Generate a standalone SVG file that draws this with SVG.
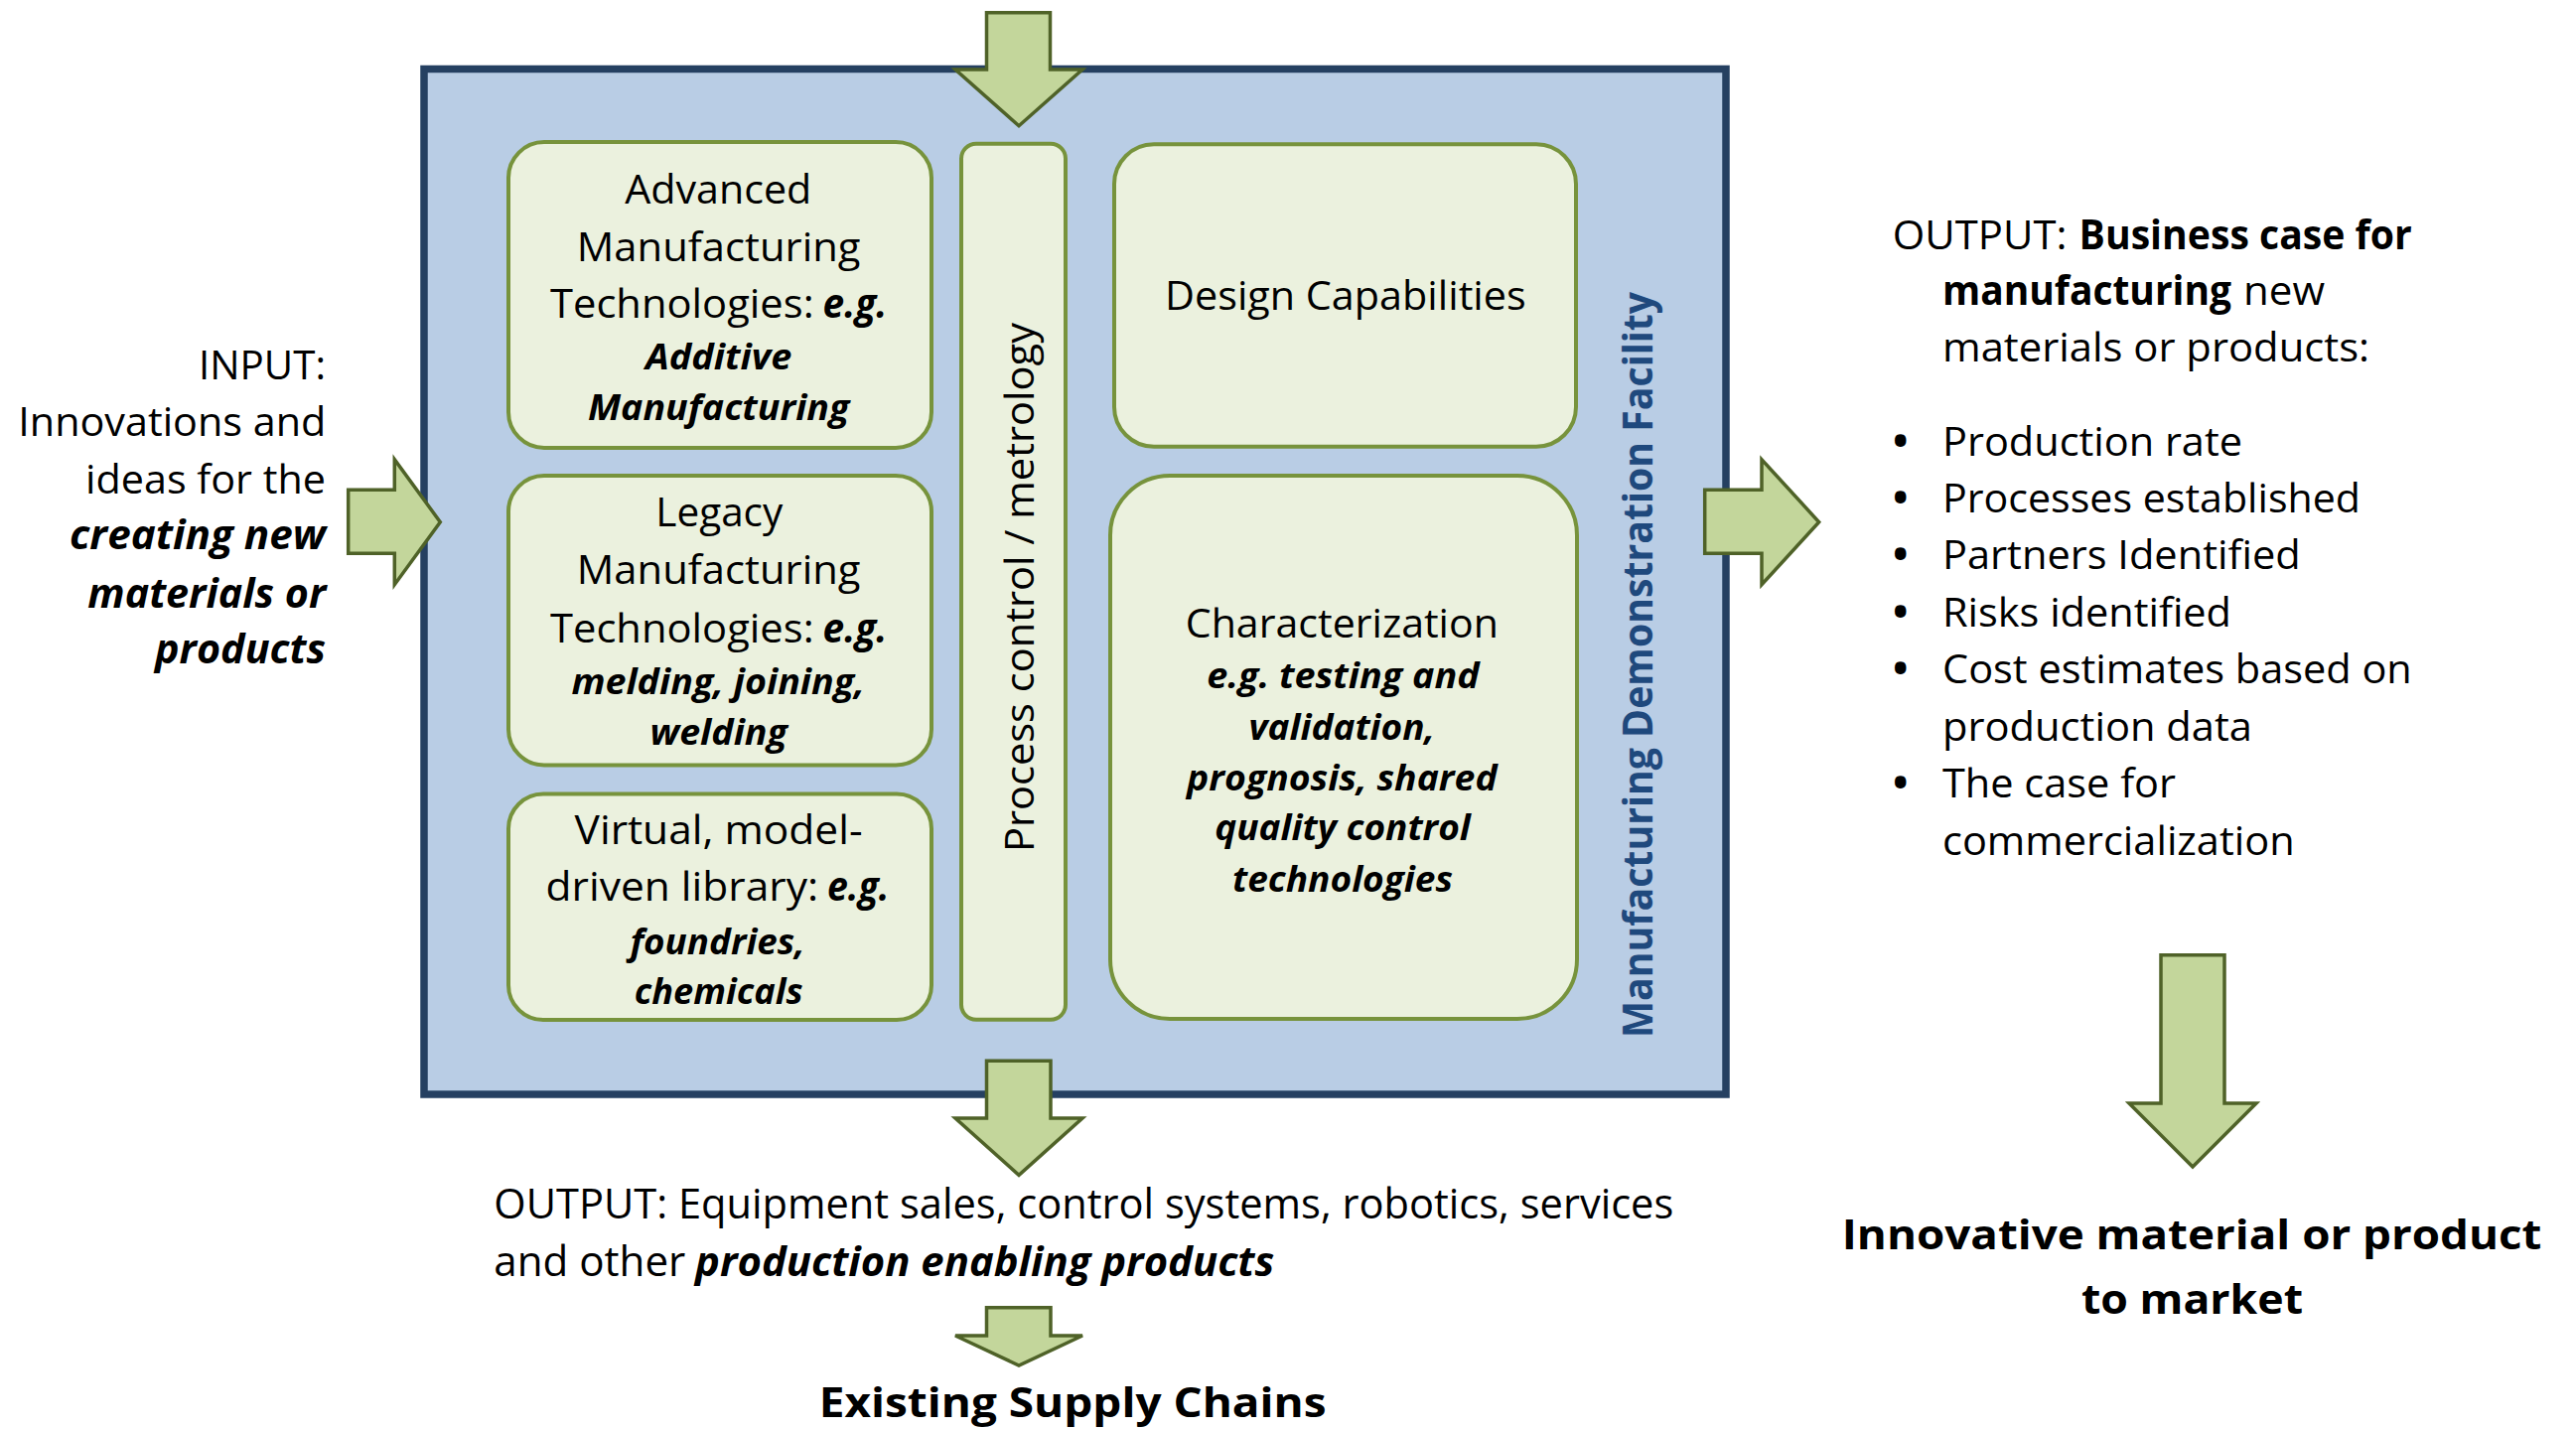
<svg xmlns="http://www.w3.org/2000/svg" width="2594" height="1439" viewBox="0 0 2594 1439">
  <style>
    .frame { fill: #B9CDE5; stroke: #254061; stroke-width: 7.5; }
    .cell { fill: #EBF1DE; stroke: #77933C; stroke-width: 4; }
    .arrow { fill: #C3D69B; stroke: #4F6228; stroke-width: 3.5; stroke-linejoin: miter; }
    text { font-family: "Open Sans", "Noto Sans", "DejaVu Sans", sans-serif; fill: #000; font-size: 41px; }
    .bi { font-weight: bold; font-style: italic; }
    .bis { font-weight: bold; font-style: italic; font-size: 36px; }
    .b { font-weight: bold; }
    .lg { font-size: 42px; }
    .label { font-weight: bold; fill: #1F497D; }
    .bullet { font-weight: bold; text-anchor: middle; }
  </style>

  <rect width="2594" height="1439" fill="#FFFFFF"/>

  <!-- Manufacturing Demonstration Facility frame -->
  <g id="mdf-frame">
    <rect class="frame" x="427" y="69.5" width="1311" height="1032.5"/>
  </g>

  <!-- capability cells inside the facility -->
  <g id="advanced-mfg">
    <rect class="cell" x="512" y="143" width="426" height="308" rx="36"/>
    <text x="629.3" y="205" textLength="188" lengthAdjust="spacingAndGlyphs">Advanced</text>
    <text x="580.8" y="262.7" textLength="285.7" lengthAdjust="spacingAndGlyphs">Manufacturing</text>
    <text x="554" y="320" textLength="265.6" lengthAdjust="spacingAndGlyphs">Technologies:</text>
    <text class="bi" x="828.6" y="320" textLength="64.7" lengthAdjust="spacingAndGlyphs">e.g.</text>
    <text class="bis" x="650" y="371.7" textLength="147.3" lengthAdjust="spacingAndGlyphs">Additive</text>
    <text class="bis" x="592" y="423.3" textLength="263.4" lengthAdjust="spacingAndGlyphs">Manufacturing</text>
  </g>

  <g id="legacy-mfg">
    <rect class="cell" x="512" y="479" width="426" height="291.5" rx="36"/>
    <text x="660.3" y="530.4" textLength="128" lengthAdjust="spacingAndGlyphs">Legacy</text>
    <text x="580.8" y="587.8" textLength="285.7" lengthAdjust="spacingAndGlyphs">Manufacturing</text>
    <text x="554" y="647.1" textLength="265.6" lengthAdjust="spacingAndGlyphs">Technologies:</text>
    <text class="bi" x="828.6" y="647.1" textLength="64.7" lengthAdjust="spacingAndGlyphs">e.g.</text>
    <text class="bis" x="575.4" y="698.8" textLength="295.5" lengthAdjust="spacingAndGlyphs">melding, joining,</text>
    <text class="bis" x="654.5" y="750.4" textLength="138.4" lengthAdjust="spacingAndGlyphs">welding</text>
  </g>

  <g id="virtual-library">
    <rect class="cell" x="512" y="799.5" width="426" height="227.5" rx="35"/>
    <text x="578.6" y="850" textLength="290" lengthAdjust="spacingAndGlyphs">Virtual, model-</text>
    <text x="549.6" y="907.3" textLength="274.5" lengthAdjust="spacingAndGlyphs">driven library:</text>
    <text class="bi" x="833" y="907.3" textLength="62.5" lengthAdjust="spacingAndGlyphs">e.g.</text>
    <text class="bis" x="634.4" y="960.9" textLength="176.3" lengthAdjust="spacingAndGlyphs">foundries,</text>
    <text class="bis" x="638.8" y="1010.6" textLength="169.7" lengthAdjust="spacingAndGlyphs">chemicals</text>
  </g>

  <g id="process-control">
    <rect class="cell" x="968" y="144.7" width="105" height="882" rx="15"/>
    <text transform="translate(1041 858) rotate(-90)" x="0" y="0" textLength="533" lengthAdjust="spacingAndGlyphs">Process control / metrology</text>
  </g>

  <g id="design-capabilities">
    <rect class="cell" x="1122" y="145.3" width="465" height="304.4" rx="40"/>
    <text x="1173" y="311.7" textLength="363.7" lengthAdjust="spacingAndGlyphs">Design Capabilities</text>
  </g>

  <g id="characterization">
    <rect class="cell" x="1118" y="479" width="470" height="547" rx="60"/>
    <text x="1193.8" y="641.5" textLength="315.1" lengthAdjust="spacingAndGlyphs">Characterization</text>
    <text class="bis" x="1215.2" y="692.5" textLength="274.5" lengthAdjust="spacingAndGlyphs">e.g. testing and</text>
    <text class="bis" x="1257.6" y="745.2" textLength="187.5" lengthAdjust="spacingAndGlyphs">validation,</text>
    <text class="bis" x="1195.1" y="796.2" textLength="312.5" lengthAdjust="spacingAndGlyphs">prognosis, shared</text>
    <text class="bis" x="1223.2" y="846" textLength="257.6" lengthAdjust="spacingAndGlyphs">quality control</text>
    <text class="bis" x="1241" y="897.8" textLength="222" lengthAdjust="spacingAndGlyphs">technologies</text>
  </g>

  <g id="mdf-label">
    <text class="label" transform="translate(1664 1045) rotate(-90)" x="0" y="0" textLength="751" lengthAdjust="spacingAndGlyphs">Manufacturing Demonstration Facility</text>
  </g>

  <!-- block arrows: input, top feed, outputs -->
  <g id="connectors">
    <polygon id="arrow-top" class="arrow" points="993.5,12.7 1057.5,12.7 1057.5,70 1090,70 1026,126.7 962,70 993.5,70"/>
    <polygon id="arrow-input" class="arrow" points="350.7,493.3 397.3,493.3 397.3,462.7 443.3,525.7 397.3,588.7 397.3,557.3 350.7,557.3"/>
    <polygon id="arrow-business" class="arrow" points="1716.7,493.3 1774,493.3 1774,462.7 1831.7,525.7 1774,588.7 1774,557.3 1716.7,557.3"/>
    <polygon id="arrow-enabling" class="arrow" points="993.5,1068.3 1058,1068.3 1058,1126 1090,1126 1026,1183.3 962,1126 993.5,1126"/>
    <polygon id="arrow-supply" class="arrow" points="993.5,1316.7 1058,1316.7 1058,1345 1090,1345 1026,1375 962,1345 993.5,1345"/>
    <polygon id="arrow-market" class="arrow" points="2176,961.7 2240,961.7 2240,1111 2272,1111 2208,1175 2144,1111 2176,1111"/>
  </g>

  <g id="input">
    <text x="200" y="381.7" textLength="128" lengthAdjust="spacingAndGlyphs">INPUT:</text>
    <text x="18.3" y="439" textLength="310" lengthAdjust="spacingAndGlyphs">Innovations and</text>
    <text x="86" y="496.7" textLength="242" lengthAdjust="spacingAndGlyphs">ideas for the</text>
    <text class="bi" x="70" y="553.3" textLength="258" lengthAdjust="spacingAndGlyphs">creating new</text>
    <text class="bi" x="88.3" y="611.7" textLength="240" lengthAdjust="spacingAndGlyphs">materials or</text>
    <text class="bi" x="156" y="668.3" textLength="172" lengthAdjust="spacingAndGlyphs">products</text>
  </g>

  <g id="output-business-case">
    <text x="1905.8" y="250.5" textLength="175.7" lengthAdjust="spacingAndGlyphs">OUTPUT:</text>
    <text class="b" x="2093.6" y="250.5" textLength="335.2" lengthAdjust="spacingAndGlyphs">Business case for</text>
    <text class="b" x="1956" y="307" textLength="291" lengthAdjust="spacingAndGlyphs">manufacturing</text>
    <text x="2259" y="307" textLength="82" lengthAdjust="spacingAndGlyphs">new</text>
    <text x="1956" y="363.5" textLength="430" lengthAdjust="spacingAndGlyphs">materials or products:</text>
    <text class="bullet" x="1913.6" y="458.6">•</text>
    <text class="bullet" x="1913.6" y="516">•</text>
    <text class="bullet" x="1913.6" y="573.4">•</text>
    <text class="bullet" x="1913.6" y="630.9">•</text>
    <text class="bullet" x="1913.6" y="688.3">•</text>
    <text class="bullet" x="1913.6" y="803">•</text>
    <text x="1956" y="458.6" textLength="302" lengthAdjust="spacingAndGlyphs">Production rate</text>
    <text x="1956" y="516" textLength="421" lengthAdjust="spacingAndGlyphs">Processes established</text>
    <text x="1956" y="573.4" textLength="360.7" lengthAdjust="spacingAndGlyphs">Partners Identified</text>
    <text x="1956" y="630.9" textLength="291" lengthAdjust="spacingAndGlyphs">Risks identified</text>
    <text x="1956" y="688.3" textLength="472.8" lengthAdjust="spacingAndGlyphs">Cost estimates based on</text>
    <text x="1956" y="745.7" textLength="312" lengthAdjust="spacingAndGlyphs">production data</text>
    <text x="1956" y="803" textLength="235" lengthAdjust="spacingAndGlyphs">The case for</text>
    <text x="1956" y="860.5" textLength="354.6" lengthAdjust="spacingAndGlyphs">commercialization</text>
  </g>

  <g id="output-enabling">
    <text class="lg" x="497.3" y="1226.7" textLength="1188" lengthAdjust="spacingAndGlyphs">OUTPUT: Equipment sales, control systems, robotics, services</text>
    <text class="lg" x="497.3" y="1284.5" textLength="193" lengthAdjust="spacingAndGlyphs">and other</text>
    <text class="lg bi" x="700" y="1284.5" textLength="583.3" lengthAdjust="spacingAndGlyphs">production enabling products</text>
  </g>

  <g id="supply-chains">
    <text class="lg b" x="824.8" y="1426.7" textLength="510.8" lengthAdjust="spacingAndGlyphs">Existing Supply Chains</text>
  </g>

  <g id="market">
    <text class="lg b" x="1854.7" y="1258" textLength="704.8" lengthAdjust="spacingAndGlyphs">Innovative material or product</text>
    <text class="lg b" x="2096" y="1323" textLength="223" lengthAdjust="spacingAndGlyphs">to market</text>
  </g>
</svg>
